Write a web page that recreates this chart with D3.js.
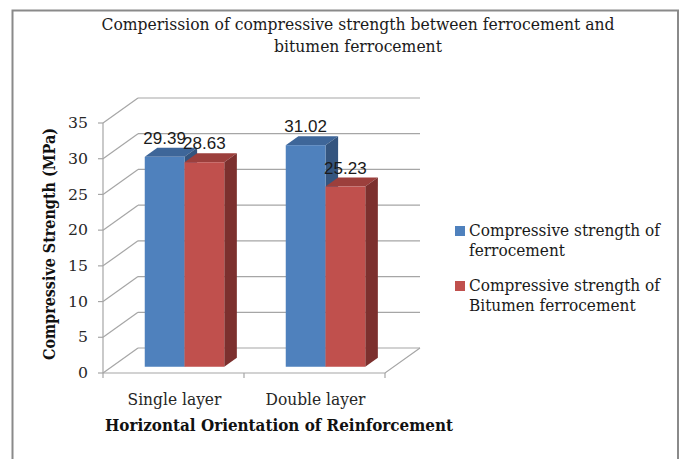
<!DOCTYPE html>
<html><head><meta charset="utf-8">
<script src="https://cdn.jsdelivr.net/npm/d3@7"></script>
<style>body{margin:0;background:#fff}svg{display:block}</style>
</head><body>
<svg id="c" width="681" height="459"></svg>
<script>
const categories = ["Single layer", "Double layer"];
const seriesNames = ["Compressive strength of ferrocement", "Compressive strength of Bitumen ferrocement"];
const ferrocement = [29.39, 31.02];
const bitumenFerrocement = [28.63, 25.23];
const yTicks = [0, 5, 10, 15, 20, 25, 30, 35];
const titleLines = ["Comperission of compressive strength between ferrocement and", "bitumen ferrocement"];
const legendLines = [["Compressive strength of", "ferrocement"], ["Compressive strength of", "Bitumen ferrocement"]];
const yTitle = "Compressive Strength (MPa)";
const xTitle = "Horizontal Orientation of Reinforcement";

const series = [
  {name: seriesNames[0], values: ferrocement, front: "#4F81BD", top: "#3E6699", side: "#34557F"},
  {name: seriesNames[1], values: bitumenFerrocement, front: "#C0504D", top: "#9C3F3C", side: "#7C302E"}
];

const svg = d3.select("#c");
const SERIF = "'DejaVu Serif', 'Liberation Serif', serif";
const SANS = "'Liberation Sans', Arial, sans-serif";

// 3D geometry
const DX = 35, DY = -25;          // full depth offset
const f0 = 0.25, f1 = 0.61;      // bar front/back depth fractions
const x0 = d3.scaleBand().domain(categories).range([103, 385]);
const x1 = d3.scaleBand().domain([0, 1]).range([33, 112.5]);
const y = d3.scaleLinear().domain([0, 35]).range([373, 123]);

// squeeze a group of texts horizontally so that the reference text gets the target width
function squeeze(sels, ref, target) {
  const r = target / ref.node().getComputedTextLength();
  sels.forEach(s => {
    const w = s.node().getComputedTextLength();
    s.attr("textLength", (w * r).toFixed(2)).attr("lengthAdjust", "spacingAndGlyphs");
  });
}

// chart border
svg.append("rect").attr("x", 12.5).attr("y", 10.5).attr("width", 665.5).attr("height", 470)
  .attr("fill", "none").attr("stroke", "#8a8a8a").attr("stroke-width", 2);

const grid = "#a6a6a6";
const g = svg.append("g");
const xL = x0.range()[0], xR = x0.range()[1];
yTicks.forEach(t => {
  const yy = y(t);
  g.append("line").attr("x1", xL + DX).attr("x2", xR + DX).attr("y1", yy + DY).attr("y2", yy + DY)
    .attr("stroke", grid).attr("stroke-width", 1.2);
  g.append("line").attr("x1", xL).attr("x2", xL + DX).attr("y1", yy).attr("y2", yy + DY)
    .attr("stroke", grid).attr("stroke-width", 1.2);
  g.append("line").attr("x1", xL - 5).attr("x2", xL).attr("y1", yy).attr("y2", yy)
    .attr("stroke", grid).attr("stroke-width", 1.2);
});
g.append("line").attr("x1", xL).attr("x2", xL).attr("y1", y(35)).attr("y2", y(0)).attr("stroke", grid).attr("stroke-width", 1.2);
g.append("path").attr("d", `M${xL},${y(0)}L${xR},${y(0)}L${xR + DX},${y(0) + DY}`)
  .attr("fill", "none").attr("stroke", grid).attr("stroke-width", 1.2);
[xL, xL + x0.bandwidth(), xR].forEach(xx => {
  g.append("line").attr("x1", xx).attr("x2", xx).attr("y1", y(0)).attr("y2", y(0) + 5).attr("stroke", grid).attr("stroke-width", 1.2);
});

// tick labels
const tl = svg.append("g");
const tlab = yTicks.map(t => tl.append("text").attr("x", 88).attr("y", y(t) + 5.2).attr("text-anchor", "end")
    .attr("font-family", SERIF).attr("font-size", 14.5).attr("fill", "#262626").text(t));
squeeze(tlab, tlab[yTicks.length - 1], 20);

// bars
const bars = svg.append("g");
series.forEach((s, si) => {
  s.values.forEach((v, ci) => {
    const bx = x0(categories[ci]) + x1(si);
    const w = x1.bandwidth();
    const fx = bx + f0 * DX, fy0 = y(0) + f0 * DY, fy1 = y(v) + f0 * DY;
    const ddx = (f1 - f0) * DX, ddy = (f1 - f0) * DY;
    bars.append("path").attr("d", `M${fx},${fy1}L${fx + ddx},${fy1 + ddy}L${fx + w + ddx},${fy1 + ddy}L${fx + w},${fy1}Z`).attr("fill", s.top);
    bars.append("path").attr("d", `M${fx + w},${fy1}L${fx + w + ddx},${fy1 + ddy}L${fx + w + ddx},${fy0 + ddy}L${fx + w},${fy0}Z`).attr("fill", s.side);
    bars.append("rect").attr("x", fx).attr("y", fy1).attr("width", w).attr("height", fy0 - fy1).attr("fill", s.front);
  });
});
// data labels
series.forEach((s, si) => {
  s.values.forEach((v, ci) => {
    const fx = x0(categories[ci]) + x1(si) + f0 * DX + x1.bandwidth() / 2;
    svg.append("text").attr("x", fx).attr("y", y(v) + f0 * DY - 13).attr("text-anchor", "middle")
      .attr("font-family", SANS).attr("font-size", 17).attr("fill", "#1a1a1a").text(v.toFixed(2));
  });
});

// category labels
const cl = categories.map((c, i) => svg.append("text").attr("x", x0(c) + x0.bandwidth() / 2 + 1).attr("y", 405)
  .attr("text-anchor", "middle").attr("font-family", SERIF).attr("font-size", 16).attr("fill", "#262626").text(c));
squeeze(cl, cl[1], 100);

// title
const t1 = svg.append("text").attr("x", 358).attr("y", 30).attr("text-anchor", "middle")
  .attr("font-family", SERIF).attr("font-size", 16).attr("fill", "#1a1a1a").text(titleLines[0]);
const t2 = svg.append("text").attr("x", 358).attr("y", 52).attr("text-anchor", "middle")
  .attr("font-family", SERIF).attr("font-size", 16).attr("fill", "#1a1a1a").text(titleLines[1]);
squeeze([t1, t2], t1, 513);

// axis titles
const xt = svg.append("text").attr("x", 279).attr("y", 431).attr("text-anchor", "middle")
  .attr("font-family", SERIF).attr("font-weight", "bold").attr("font-size", 16).attr("fill", "#111").text(xTitle);
squeeze([xt], xt, 348);
const yt = svg.append("text").attr("transform", "translate(55,244) rotate(-90)").attr("text-anchor", "middle")
  .attr("font-family", SERIF).attr("font-weight", "bold").attr("font-size", 16).attr("fill", "#111").text(yTitle);
squeeze([yt], yt, 232);

// legend
const lg = svg.append("g");
const legY = [236, 291];
const ltexts = [];
series.forEach((s, i) => {
  lg.append("rect").attr("x", 455).attr("y", legY[i] - 10).attr("width", 10).attr("height", 10).attr("fill", s.front);
  legendLines[i].forEach((ln, j) => {
    ltexts.push(lg.append("text").attr("x", 469).attr("y", legY[i] + j * 20).attr("font-family", SERIF)
      .attr("font-size", 16).attr("fill", "#1a1a1a").text(ln));
  });
});
squeeze(ltexts, ltexts[0], 191);
</script>
</body></html>
